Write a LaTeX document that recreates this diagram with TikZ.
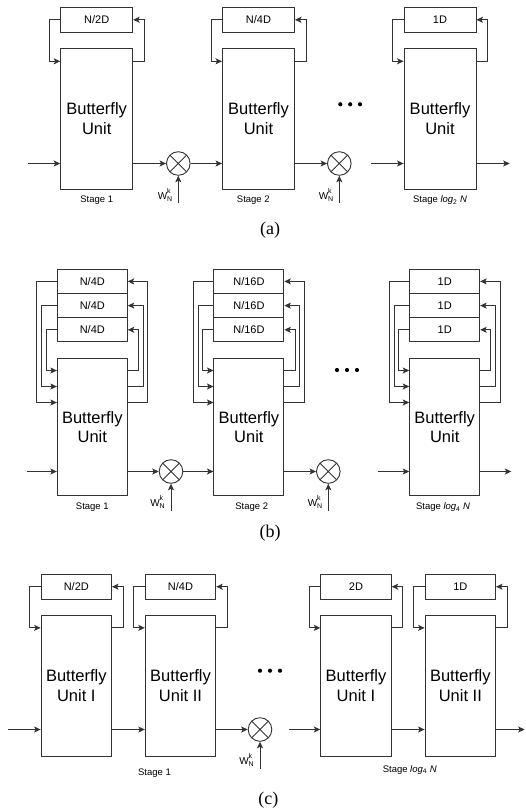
\documentclass[tikz,border=0pt]{standalone}
\usepackage{fontspec}
\setmainfont{Liberation Sans}
\newfontfamily\capfont{Liberation Serif}
\usetikzlibrary{arrows.meta,calc}
\tikzset{
  ln/.style={line width=0.9pt, draw=black!80},
  arr/.style={ln, -{Stealth[length=6.5pt,width=6pt,inset=1.5pt]}},
  dbox/.style={ln, rectangle, inner sep=0pt, font=\fontsize{11}{13}\selectfont},
  bfly/.style={ln, rectangle, inner sep=0pt, align=center, font=\fontsize{16.5}{19.5}\selectfont},
  mult/.style={ln, circle, inner sep=0pt, minimum size=23.6pt,
    path picture={\draw[ln] (path picture bounding box.north west) -- (path picture bounding box.south east)
      (path picture bounding box.north east) -- (path picture bounding box.south west);}},
  lbl/.style={inner sep=0pt, font=\fontsize{9.5}{11}\selectfont},
  wlbl/.style={inner sep=0pt, font=\fontsize{10}{11}\selectfont},
  captext/.style={inner sep=0pt, font=\capfont\fontsize{18}{20}\selectfont},
  dotm/.style={fill=black, draw=none, circle, inner sep=0pt, minimum size=4.2pt},
}
\newcommand\Wnk{W\raisebox{-2pt}{\fontsize{7}{7.2}\selectfont\begin{tabular}[b]{@{}l@{}}k\\N\end{tabular}}}
% feedback loop: #1 delay, #2 butterfly, #3 left offset, #4 right offset, #5 y offset below butterfly top
\newcommand\fbloop[5]{%
  \draw[arr] (#1.west) -- ++(-#3,0) |- ($(#2.north west)+(0,#5)$);
  \draw[arr] ($(#2.north east)+(0,#5)$) -- ++(#4,0) |- (#1.east);
}
\begin{document}
\begin{tikzpicture}[x=1pt,y=-1pt]
\useasboundingbox (0,0) rectangle (526,811);

% ================= (a) =================
\node[dbox, minimum width=72pt, minimum height=25pt] (a1d) at (96.7,19.8) {N/2D};
\node[bfly, minimum width=72pt, minimum height=140.7pt] (a1b) at (96.7,118.7) {Butterfly\\Unit};
\node[dbox, minimum width=72pt, minimum height=25pt] (a2d) at (258.5,19.8) {N/4D};
\node[bfly, minimum width=72pt, minimum height=140.7pt] (a2b) at (258.5,118.7) {Butterfly\\Unit};
\node[dbox, minimum width=72pt, minimum height=25pt] (a3d) at (440,19.8) {1D};
\node[bfly, minimum width=72pt, minimum height=140.7pt] (a3b) at (440,118.7) {Butterfly\\Unit};
\fbloop{a1d}{a1b}{11}{11}{13.4}
\fbloop{a2d}{a2b}{11}{11}{13.4}
\fbloop{a3d}{a3b}{11}{11}{13.4}
\node[mult] (a1m) at (178.3,163.5) {};
\node[mult] (a2m) at (339.3,163.5) {};
\coordinate (a0) at (28,163.5);
\coordinate (a3in) at (371.3,163.5);
\coordinate (a3out) at (509.7,163.5);
\draw[arr] (a0) -- (a0 -| a1b.west);
\draw[arr] (a1m.west -| a1b.east) -- (a1m.west);
\draw[arr] (a1m.east) -- (a1m.east -| a2b.west);
\draw[arr] (a2m.west -| a2b.east) -- (a2m.west);
\draw[arr] (a3in) -- (a3in -| a3b.west);
\draw[arr] (a3out -| a3b.east) -- (a3out);
\node[wlbl] (a1w) at (165,196) {\Wnk};
\node[wlbl] (a2w) at (326,196) {\Wnk};
\coordinate (a1wb) at (178.3,202.5);
\coordinate (a2wb) at (339.3,202.5);
\draw[arr] (a1wb) -- (a1m.south);
\draw[arr] (a2wb) -- (a2m.south);
\node[lbl] (a1l) at (96.7,200) {Stage 1};
\node[lbl] (a2l) at (253.3,200) {Stage 2};
\node[lbl] (a3l) at (440,200) {Stage \textit{log}\textsubscript{2} \textit{N}};
\node[dotm] (ad1) at (340.3,104.3) {};
\node[dotm] (ad2) at (350.2,104.3) {};
\node[dotm] (ad3) at (360,104.3) {};
\node[captext] (acap) at (270,230) {(a)};

% ================= (b) =================
\foreach \s/\x/\t in {1/92.3/N\slash4D, 2/248.9/N\slash16D, 3/444.7/1D}{
  \node[dbox, minimum width=70pt, minimum height=24.2pt] (b\s d1) at (\x,281.4) {\t};
  \node[dbox, minimum width=70pt, minimum height=24.2pt] (b\s d2) at (\x,305.6) {\t};
  \node[dbox, minimum width=70pt, minimum height=24.2pt] (b\s d3) at (\x,329.8) {\t};
  \node[bfly, minimum width=70pt, minimum height=137.5pt] (b\s b) at (\x,427) {Butterfly\\Unit};
  \fbloop{b\s d3}{b\s b}{10.6}{10.6}{12.7}
  \fbloop{b\s d2}{b\s b}{15.3}{15.3}{28.7}
  \fbloop{b\s d1}{b\s b}{20}{20}{44.7}
}
\node[mult] (b1m) at (171,471.5) {};
\node[mult] (b2m) at (328.3,471.5) {};
\coordinate (b0) at (26.7,471.5);
\coordinate (b3in) at (378,471.5);
\coordinate (b3out) at (511.3,471.5);
\draw[arr] (b0) -- (b0 -| b1b.west);
\draw[arr] (b1m.west -| b1b.east) -- (b1m.west);
\draw[arr] (b1m.east) -- (b1m.east -| b2b.west);
\draw[arr] (b2m.west -| b2b.east) -- (b2m.west);
\draw[arr] (b3in) -- (b3in -| b3b.west);
\draw[arr] (b3out -| b3b.east) -- (b3out);
\node[wlbl] (b1w) at (157.5,503) {\Wnk};
\node[wlbl] (b2w) at (315,503) {\Wnk};
\coordinate (b1wb) at (171,510.5);
\coordinate (b2wb) at (328.3,510.5);
\draw[arr] (b1wb) -- (b1m.south);
\draw[arr] (b2wb) -- (b2m.south);
\node[lbl] (b1l) at (92.3,507.5) {Stage 1};
\node[lbl] (b2l) at (251.7,507.5) {Stage 2};
\node[lbl] (b3l) at (443,507.5) {Stage \textit{log}\textsubscript{4} \textit{N}};
\node[dotm] (bd1) at (337,370) {};
\node[dotm] (bd2) at (347,370) {};
\node[dotm] (bd3) at (357,370) {};
\node[captext] (bcap) at (270,533) {(b)};

% ================= (c) =================
\foreach \n/\x/\t/\u in {1/76.3/N\slash2D/Unit I, 2/180.5/N\slash4D/Unit II, 3/356/2D/Unit I, 4/460.3/1D/Unit II}{
  \node[dbox, minimum width=70.5pt, minimum height=24.7pt] (c\n d) at (\x,586.7) {\t};
  \node[bfly, minimum width=70.5pt, minimum height=141pt] (c\n b) at (\x,685.5) {Butterfly\\\u};
  \fbloop{c\n d}{c\n b}{11}{11}{13.3}
}
\node[mult] (c1m) at (260,729.5) {};
\coordinate (c0) at (8.3,729.5);
\coordinate (c3in) at (289,729.5);
\coordinate (c4out) at (524.7,729.5);
\draw[arr] (c0) -- (c0 -| c1b.west);
\draw[arr] (c0 -| c1b.east) -- (c0 -| c2b.west);
\draw[arr] (c1m.west -| c2b.east) -- (c1m.west);
\draw[arr] (c3in) -- (c3in -| c3b.west);
\draw[arr] (c3in -| c3b.east) -- (c3in -| c4b.west);
\draw[arr] (c4out -| c4b.east) -- (c4out);
\node[wlbl] (c1w) at (246.5,761) {\Wnk};
\coordinate (c1wb) at (260,768.5);
\draw[arr] (c1wb) -- (c1m.south);
\node[lbl] (c1l) at (154.5,773) {Stage 1};
\node[lbl] (c2l) at (409.7,770) {Stage \textit{log}\textsubscript{4} \textit{N}};
\node[dotm] (cd1) at (260,670.7) {};
\node[dotm] (cd2) at (270,670.7) {};
\node[dotm] (cd3) at (280,670.7) {};
\node[captext] (ccap) at (268.3,800) {(c)};
\end{tikzpicture}
\end{document}
